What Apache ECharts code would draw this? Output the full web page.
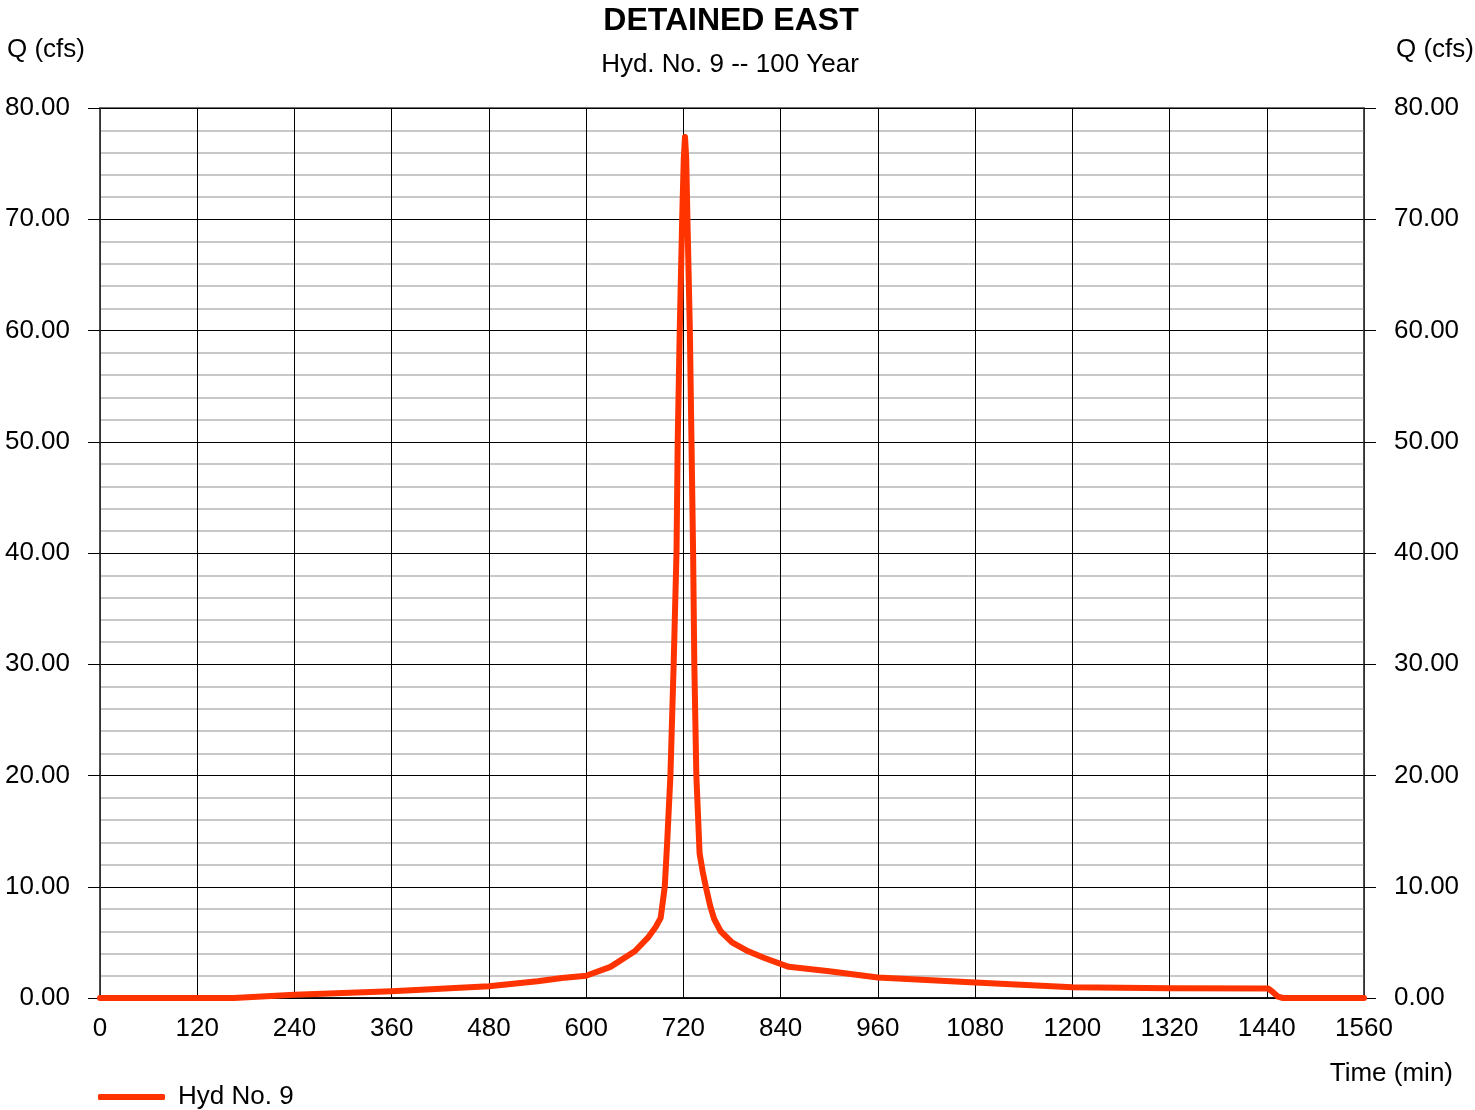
<!DOCTYPE html>
<html>
<head>
<meta charset="utf-8">
<script src="https://cdn.jsdelivr.net/npm/echarts@6/dist/echarts.min.js"></script>
<style>
  html, body { margin: 0; padding: 0; background: #fff; }
  #chart { width: 1475px; height: 1110px; }
</style>
</head>
<body>
<div id="chart"></div>
<script>
// hydrograph
var timeMin = [0, 165, 240, 360, 480, 540, 570, 600, 630, 660, 676, 686, 692,
	697, 700, 704, 708, 711.5, 713, 715.5, 718.5, 720.5, 722, 723.5, 725, 728,
	730, 732, 733.5, 736, 740, 744, 748, 753, 758, 766, 780, 800, 820, 850, 900, 960,
	1080, 1200, 1320, 1442, 1448, 1454, 1460, 1560];
var flowCfs = [0, 0, 0.3, 0.6, 1.05, 1.5, 1.8, 2.0, 2.8, 4.2, 5.4, 6.4, 7.2,
	10, 14, 20, 30, 40, 50, 60, 70, 75.5, 77.4, 75.5, 70, 60,
	50, 40, 30, 20, 13, 11.3, 9.9, 8.3, 7.1, 6.0, 5.0, 4.2, 3.6, 2.8, 2.4, 1.85,
	1.4, 0.97, 0.88, 0.85, 0.5, 0.12, 0, 0];
var xTicks = { min: 0, max: 1560, step: 120 };
var yTicks = { min: 0, max: 80, step: 10 };

var fontName = 'Liberation Sans, Arial, sans-serif';

function showHydrograph(divId) {
	var chart = echarts.init(document.getElementById(divId));
	var option = genHydrographOption();
	if (option && typeof option === "object") {
		chart.setOption(option, true);
	}
}

function genHydrographOption() {
	var points = [];
	for (var i = 0; i < timeMin.length; i++) {
		points.push([timeMin[i], flowCfs[i]]);
	}

	var yCommon = {
		type : 'value',
		min : yTicks.min,
		max : yTicks.max,
		interval : yTicks.step,
		axisLine : { show : true, lineStyle : { color : '#404040', width : 1.5 } },
		axisTick : { show : true, inside : false, length : 12, lineStyle : { color : '#000' } },
		axisLabel : {
			margin : 30,
			fontSize : 26,
			color : '#000',
			fontFamily : fontName,
			formatter : function (v) { return v.toFixed(2); }
		}
	};

	var option = {
		backgroundColor : '#fff',
		animation : false,
		grid : {
			left : 100,
			right : 111,
			top : 108,
			bottom : 112,
			show : true,
			borderColor : '#404040',
			borderWidth : 1.5
		},
		graphic : [
			{ type : 'text', style : { x : 731, y : 21, text : 'DETAINED EAST', textAlign : 'center', textVerticalAlign : 'middle',
				font : 'bold 32px ' + fontName, fill : '#000' } },
			{ type : 'text', style : { x : 730, y : 65, text : 'Hyd. No. 9 -- 100 Year', textAlign : 'center', textVerticalAlign : 'middle',
				font : '26px ' + fontName, fill : '#000' } },
			{ type : 'text', style : { x : 7, y : 50, text : 'Q (cfs)', textAlign : 'left', textVerticalAlign : 'middle',
				font : '26px ' + fontName, fill : '#000' } },
			{ type : 'text', style : { x : 1474, y : 50, text : 'Q (cfs)', textAlign : 'right', textVerticalAlign : 'middle',
				font : '26px ' + fontName, fill : '#000' } },
			{ type : 'text', style : { x : 1453, y : 1074, text : 'Time (min)', textAlign : 'right', textVerticalAlign : 'middle',
				font : '26px ' + fontName, fill : '#000' } }
		],
		legend : {
			left : 98,
			top : 1084,
			padding : 0,
			itemWidth : 67,
			itemHeight : 6,
			icon : 'roundRect',
			textStyle : { fontSize : 26, color : '#000', fontFamily : fontName, padding : [0, 0, 0, 8] },
			data : [ 'Hyd No. 9' ]
		},
		xAxis : {
			type : 'value',
			min : xTicks.min,
			max : xTicks.max,
			interval : xTicks.step,
			axisLine : { show : true, lineStyle : { color : '#000', width : 1.5 } },
			axisTick : { show : false },
			axisLabel : {
				margin : 18,
				fontSize : 26,
				color : '#000',
				fontFamily : fontName,
				formatter : function (v) { return String(v); }
			},
			splitLine : { show : true, lineStyle : { color : '#000', width : 1 } }
		},
		yAxis : [
			Object.assign({}, yCommon, {
				position : 'left',
				splitLine : { show : true, lineStyle : { color : '#000', width : 1 } },
				minorTick : { show : true, splitNumber : 5, length : 0 },
				minorSplitLine : { show : true, lineStyle : { color : '#c8c8c8', width : 2 } }
			}),
			Object.assign({}, yCommon, {
				position : 'right',
				splitLine : { show : false }
			})
		],
		series : [ {
			name : 'Hyd No. 9',
			type : 'line',
			yAxisIndex : 0,
			symbol : 'none',
			z : 5,
			lineStyle : { color : '#ff3300', width : 6, cap : 'round', join : 'round' },
			itemStyle : { color : '#ff3300' },
			data : points
		} ]
	};

	return option;
}

showHydrograph('chart');
</script>
</body>
</html>
